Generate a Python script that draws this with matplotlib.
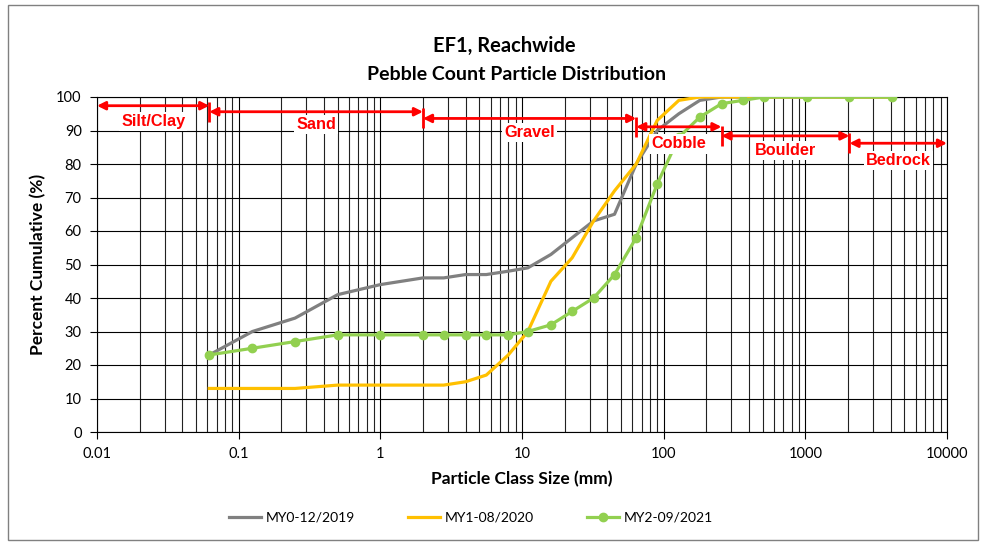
import numpy as np
import matplotlib
matplotlib.use("Agg")
import matplotlib.pyplot as plt
from matplotlib.ticker import FixedLocator, NullFormatter, LogLocator
from matplotlib.patches import Rectangle

# ---------------- data ----------------
sizes = [0.062, 0.125, 0.25, 0.5, 1, 2, 2.8, 4, 5.6, 8, 11, 16, 22.6, 32, 45, 64,
         90, 128, 180, 256, 362, 512, 1024, 2048, 4096]
my0 = [23, 30, 34, 41, 44, 46, 46, 47, 47, 48, 49, 53, 58, 63, 65, 80,
       90, 95, 99, 100, 100, 100, 100, 100, 100]
my1 = [13, 13, 13, 14, 14, 14, 14, 15, 17, 23, 30, 45, 52, 63, 72, 80,
       93, 99, 100, 100, 100, 100, 100, 100, 100]
my2 = [23, 25, 27, 29, 29, 29, 29, 29, 29, 29, 30, 32, 36, 40, 47, 58,
       74, 88, 94, 98, 99, 100, 100, 100, 100]
series_names = ["MY0-12/2019", "MY1-08/2020", "MY2-09/2021"]

class_names = ["Silt/Clay", "Sand", "Gravel", "Cobble", "Boulder", "Bedrock"]
class_bounds = [0.01, 0.062, 2, 64, 256, 2048, 10000]

x_ticks = [0.01, 0.1, 1, 10, 100, 1000, 10000]
x_ticklabels = ["0.01", "0.1", "1", "10", "100", "1000", "10000"]
y_ticks = list(range(0, 101, 10))

# ---------------- layout / style ----------------
arrow_y = [97.4, 95.6, 93.6, 91.1, 88.4, 86.2]
label_y = [92.7, 91.8, 89.3, 86.0, 84.0, 81.0]
colors = ["#808080", "#FFC000", "#92D050"]
RED = "#FF0000"
FONT = "Lato"

fig = plt.figure(figsize=(9.87, 5.42), dpi=100)
ax = fig.add_axes([97/987, 110/542, 850/987, 335/542])

ax.set_xscale("log")
ax.set_xlim(class_bounds[0], class_bounds[-1])
ax.set_ylim(0, 100)

# grid
ax.xaxis.set_major_locator(FixedLocator(x_ticks))
ax.xaxis.set_minor_locator(LogLocator(base=10, subs=np.arange(2, 10)))
ax.xaxis.set_minor_formatter(NullFormatter())
ax.set_xticklabels(x_ticklabels)
ax.set_yticks(y_ticks)
ax.grid(which="major", color="black", lw=0.8, zorder=0)
ax.grid(which="minor", axis="x", color="#222222", lw=0.8, zorder=0)
ax.set_axisbelow(True)
for s in ax.spines.values():
    s.set_color("black")
    s.set_linewidth(0.8)
ax.tick_params(which="major", direction="out", length=5, width=0.8, color="black",
               labelsize=10.5, pad=6)
ax.tick_params(which="minor", length=0)
for lbl in ax.get_xticklabels() + ax.get_yticklabels():
    lbl.set_fontfamily(FONT)

# series
ax.plot(sizes, my0, color=colors[0], lw=2.3, label=series_names[0], zorder=3)
ax.plot(sizes, my1, color=colors[1], lw=2.3, label=series_names[1], zorder=3)
ax.plot(sizes, my2, color=colors[2], lw=2.3, marker="o", markersize=6,
        label=series_names[2], zorder=3)

# class arrows
for i, name in enumerate(class_names):
    x0, x1 = class_bounds[i], class_bounds[i + 1]
    y = arrow_y[i]
    ax.annotate("", xy=(x1, y), xytext=(x0, y),
                arrowprops=dict(arrowstyle="<|-|>", color=RED, lw=2,
                                mutation_scale=12, shrinkA=0, shrinkB=0),
                zorder=5, annotation_clip=False)
    if i > 0:
        ax.plot([x0, x0], [y - 3, y + 3], color=RED, lw=2, zorder=5,
                solid_capstyle="butt", clip_on=False)
    ax.text(np.sqrt(x0 * x1), label_y[i], name, color=RED, fontsize=11.7,
            fontweight="bold", family="Liberation Sans", ha="center", va="center",
            zorder=6, bbox=dict(facecolor="white", edgecolor="none", pad=1.5))

# titles
fig.text(504/987, 1 - 46/542, "EF1, Reachwide", ha="center", va="center",
         fontsize=14.5, fontweight="bold", family=FONT)
fig.text(517/987, 1 - 75/542, "Pebble Count Particle Distribution", ha="center",
         va="center", fontsize=14, fontweight="bold", family=FONT)
ax.set_xlabel("Particle Class Size (mm)", fontsize=12.5, fontweight="bold",
              family=FONT, labelpad=7)
ax.set_ylabel("Percent Cumulative (%)", fontsize=12.5, fontweight="bold",
              family=FONT, labelpad=7)

leg = fig.legend(loc="center", bbox_to_anchor=(471/987, 1 - 518/542), ncol=3,
                 frameon=False, prop={"family": FONT, "size": 10},
                 handlelength=2.3, columnspacing=3.8, handletextpad=0.35)

# outer border
fig.patches.append(Rectangle((8/987, 2/542), 970/987, 535/542, transform=fig.transFigure,
                             fill=False, edgecolor="#808080", lw=1))

fig.savefig("out.png", dpi=100)
